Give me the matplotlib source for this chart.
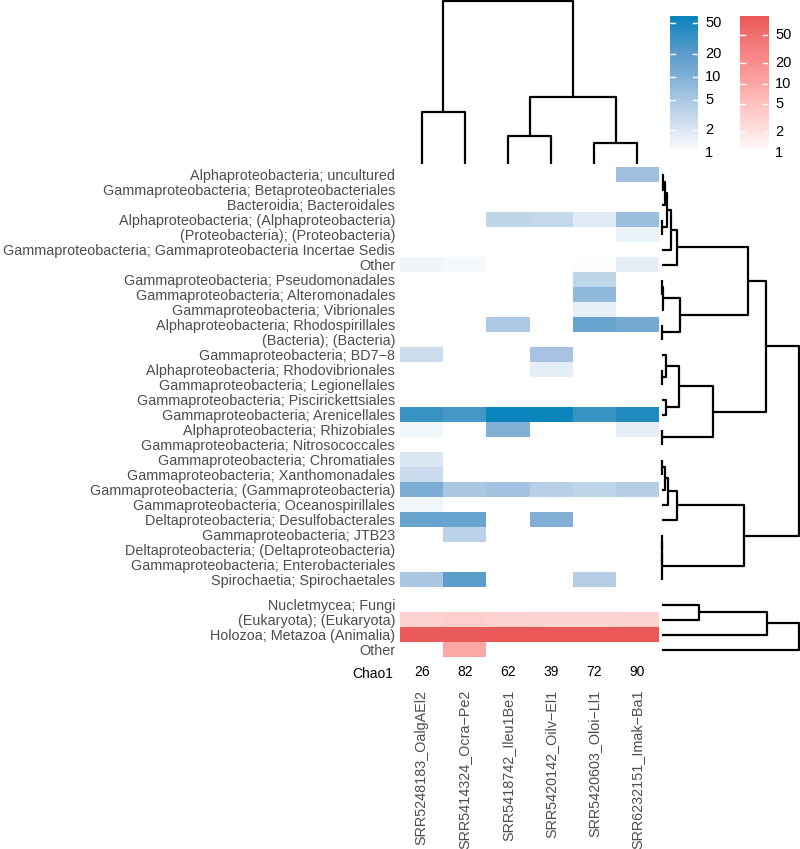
import numpy as np
import matplotlib
matplotlib.use("Agg")
import matplotlib.pyplot as plt
from matplotlib.colors import LinearSegmentedColormap, LogNorm

plt.rcParams['font.family'] = ['Liberation Sans', 'DejaVu Sans']

# --- data ---
samples = ["SRR5248183_OalgAEl2", "SRR5414324_Ocra\u2212Pe2", "SRR5418742_Ileu1Be1",
           "SRR5420142_Oilv\u2212El1", "SRR5420603_Oloi\u2212Ll1", "SRR6232151_Imak\u2212Ba1"]
chao1 = [26, 82, 62, 39, 72, 90]

bact_taxa = [
    "Alphaproteobacteria; uncultured",
    "Gammaproteobacteria; Betaproteobacteriales",
    "Bacteroidia; Bacteroidales",
    "Alphaproteobacteria; (Alphaproteobacteria)",
    "(Proteobacteria); (Proteobacteria)",
    "Gammaproteobacteria; Gammaproteobacteria Incertae Sedis",
    "Other",
    "Gammaproteobacteria; Pseudomonadales",
    "Gammaproteobacteria; Alteromonadales",
    "Gammaproteobacteria; Vibrionales",
    "Alphaproteobacteria; Rhodospirillales",
    "(Bacteria); (Bacteria)",
    "Gammaproteobacteria; BD7\u22128",
    "Alphaproteobacteria; Rhodovibrionales",
    "Gammaproteobacteria; Legionellales",
    "Gammaproteobacteria; Piscirickettsiales",
    "Gammaproteobacteria; Arenicellales",
    "Alphaproteobacteria; Rhizobiales",
    "Gammaproteobacteria; Nitrosococcales",
    "Gammaproteobacteria; Chromatiales",
    "Gammaproteobacteria; Xanthomonadales",
    "Gammaproteobacteria; (Gammaproteobacteria)",
    "Gammaproteobacteria; Oceanospirillales",
    "Deltaproteobacteria; Desulfobacterales",
    "Gammaproteobacteria; JTB23",
    "Deltaproteobacteria; (Deltaproteobacteria)",
    "Gammaproteobacteria; Enterobacteriales",
    "Spirochaetia; Spirochaetales",
]
euk_taxa = ["Nucletmycea; Fungi", "(Eukaryota); (Eukaryota)", "Holozoa; Metazoa (Animalia)", "Other"]

n = np.nan
bact_values = np.array([
    [n, n, n, n, n, 6.0],
    [n, n, n, n, n, n],
    [n, n, n, n, n, n],
    [n, n, 3.4, 3.0, 1.8, 6.4],
    [n, n, n, n, n, 1.45],
    [n, n, n, n, n, n],
    [1.33, 1.18, n, n, 1.08, 1.64],
    [n, n, n, n, 3.4, n],
    [n, n, n, n, 7.8, n],
    [n, n, n, n, 1.57, n],
    [n, n, 4.8, n, 16, 12],
    [n, n, n, n, n, n],
    [2.7, n, n, 5.4, n, n],
    [n, n, n, 1.64, n, n],
    [n, n, n, n, n, n],
    [n, n, n, n, n, n],
    [33, 27, 62, 60, 33, 46],
    [1.3, n, 10, n, n, 1.64],
    [n, n, n, n, n, n],
    [2.0, n, n, n, n, n],
    [2.8, n, n, n, n, n],
    [11, 5.0, 5.6, 3.9, 3.4, 4.1],
    [1.3, n, n, n, n, n],
    [15.8, 15.5, n, 10, n, n],
    [n, 3.6, n, n, n, n],
    [n, n, n, n, n, n],
    [n, n, n, n, n, n],
    [5.0, 20, n, n, 4.1, n],
])
euk_values = np.array([
    [n, n, n, n, n, n],
    [3.3, 3.6, 3.3, 3.1, 3.1, 3.3],
    [86, 84, 90, 90, 90, 90],
    [n, 10, n, n, n, n],
])

# dendrogram merges: (left node, right node, height); new node ids continue after leaves
col_merges = [(0, 1, 52), (2, 3, 28), (4, 5, 21), (7, 8, 67), (6, 9, 163)]
bact_merges = [
    (0, 1, 0.8), (28, 2, 3.5), (3, 4, 0.6), (29, 30, 5), (31, 5, 9.3), (32, 6, 15),
    (7, 8, 0.6), (34, 9, 1.6), (10, 11, 0.6), (35, 36, 18.3), (33, 37, 86.3),
    (13, 14, 0.6), (12, 39, 4.3), (15, 16, 4.3), (40, 41, 17.3), (17, 18, 0.6),
    (42, 43, 51.6), (38, 44, 104.3),
    (19, 20, 0.3), (46, 21, 3.3), (47, 22, 6), (48, 23, 15),
    (24, 25, 0.2), (50, 26, 0.3), (51, 27, 0.5), (49, 52, 82.6), (45, 53, 137.3),
]
euk_merges = [(0, 1, 37.6), (4, 2, 105), (5, 3, 137.3)]

legend_ticks = [1, 2, 5, 10, 20, 50]
blue_range = (1.16, 62)
red_range = (1.18, 94)

# --- layout helpers ---
W, H = 800, 849
fig = plt.figure(figsize=(W / 100, H / 100), dpi=100)


def box(x0, y0, x1, y1):
    return fig.add_axes([x0 / W, 1 - y1 / H, (x1 - x0) / W, (y1 - y0) / H])


blue_cmap = LinearSegmentedColormap.from_list("blue", [
    (0, "#FFFFFF"), (0.17, "#DAE6F2"), (0.39, "#AAC7E3"),
    (0.56, "#80AFD5"), (0.73, "#5B9CCB"), (1, "#0A84BC")])
red_cmap = LinearSegmentedColormap.from_list("red", [
    (0, "#FFFFFF"), (0.15, "#FEE3E2"), (0.35, "#FEC4C2"),
    (0.51, "#FCA6A4"), (0.86, "#F27171"), (1, "#EB5757")])
blue_norm = LogNorm(vmin=1, vmax=blue_range[1])
red_norm = LogNorm(vmin=1, vmax=red_range[1])

LABEL_COLOR = "#4D4D4D"
FS = 10.4


def heat(ax, values, labels, cmap, norm):
    nr, nc = values.shape
    ax.pcolormesh(np.arange(nc + 1), np.arange(nr + 1), np.ma.masked_invalid(values),
                  cmap=cmap, norm=norm)
    ax.set_xlim(0, nc)
    ax.set_ylim(nr, 0)
    ax.set_xticks([])
    ax.set_yticks(np.arange(nr) + 0.5)
    ax.set_yticklabels(labels, fontsize=FS, color=LABEL_COLOR)
    ax.tick_params(axis="y", length=0, pad=3.5)
    for s in ax.spines.values():
        s.set_visible(False)


ax_b = box(400, 167, 659, 587)
heat(ax_b, bact_values, bact_taxa, blue_cmap, blue_norm)
ax_e = box(400, 597, 659, 657)
heat(ax_e, euk_values, euk_taxa, red_cmap, red_norm)


def dendro(ax, merges, n_leaves, horizontal):
    pos = {i: i + 0.5 for i in range(n_leaves)}
    hgt = {i: 0.0 for i in range(n_leaves)}
    for k, (a, b, h) in enumerate(merges):
        hs = [hgt[a], h, h, hgt[b]]
        ps = [pos[a], pos[a], pos[b], pos[b]]
        if horizontal:
            ax.plot(hs, ps, color="black", lw=1.6, clip_on=False, solid_capstyle="butt")
        else:
            ax.plot(ps, hs, color="black", lw=1.6, clip_on=False, solid_capstyle="butt")
        pos[n_leaves + k] = (pos[a] + pos[b]) / 2
        hgt[n_leaves + k] = h
    ax.axis("off")


ax_top = box(400, 1, 659, 164)
dendro(ax_top, col_merges, 6, horizontal=False)
ax_top.set_xlim(0, 6)
ax_top.set_ylim(0, col_merges[-1][2])

ax_rb = box(661.7, 167, 799, 587)
dendro(ax_rb, bact_merges, len(bact_taxa), horizontal=True)
ax_rb.set_ylim(len(bact_taxa), 0)
ax_rb.set_xlim(0, bact_merges[-1][2])

ax_re = box(661.7, 597, 799, 657)
dendro(ax_re, euk_merges, len(euk_taxa), horizontal=True)
ax_re.set_ylim(len(euk_taxa), 0)
ax_re.set_xlim(0, euk_merges[-1][2])

# Chao1 annotation row + sample names
ax_c = box(400, 664, 659, 680)
ax_c.set_xlim(0, 6)
ax_c.set_ylim(0, 1)
for i, v in enumerate(chao1):
    ax_c.text(i + 0.5, 0.5, str(v), ha="center", va="center", fontsize=10, color="black")
ax_c.set_yticks([0.5])
ax_c.set_yticklabels(["Chao1"], fontsize=10, color="black")
ax_c.set_xticks(np.arange(6) + 0.5)
ax_c.set_xticklabels(samples, rotation=90, fontsize=FS, color=LABEL_COLOR)
ax_c.tick_params(length=0)
ax_c.tick_params(axis="y", pad=5)
ax_c.tick_params(axis="x", pad=7)
for s in ax_c.spines.values():
    s.set_visible(False)


# legends
def legend_bar(ax, cmap, norm, vrange):
    lo, hi = np.log10(vrange[0]), np.log10(vrange[1])
    grid = 10 ** np.linspace(lo, hi, 256)[:, None]
    ax.imshow(grid, cmap=cmap, norm=norm, extent=(0, 1, lo, hi), origin="lower", aspect="auto")
    ax.set_xlim(0, 1)
    ax.set_ylim(lo, hi)
    for t in legend_ticks:
        lt = np.log10(t)
        if lo <= lt <= hi:
            ax.plot([0, 0.18], [lt, lt], color="white", lw=1)
            ax.plot([0.82, 1], [lt, lt], color="white", lw=1)
        ax.text(1.25, lt, str(t), ha="left", va="center", fontsize=10.5, color="black", clip_on=False)
    ax.axis("off")


legend_bar(box(670, 16, 698, 148), blue_cmap, blue_norm, blue_range)
legend_bar(box(740, 16, 768, 148), red_cmap, red_norm, red_range)

fig.savefig("out.png", dpi=100)
